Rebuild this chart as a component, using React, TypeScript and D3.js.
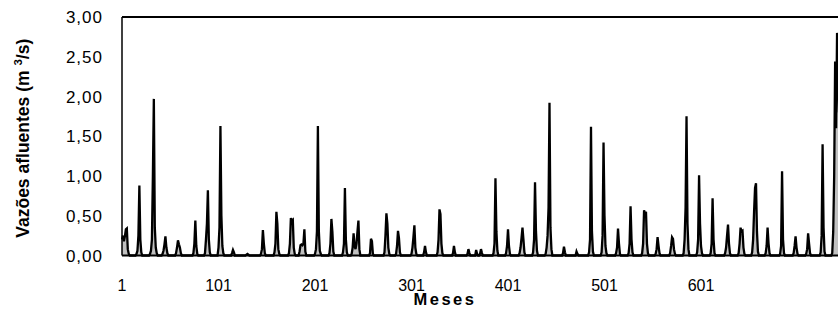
import * as d3 from 'd3';

// monthly inflows: [month, value]; months not listed are ~0
const picos: [number, number][] = [
    [1, 0.2], [2, 0.25], [3, 0.18], [4, 0.24], [5, 0.33], [6, 0.34], [7, 0.08], [8, 0.02],
    [16, 0.02], [17, 0.06], [18, 0.25], [19, 0.88], [20, 0.2], [21, 0.04],
    [30, 0.02], [31, 0.06], [32, 0.2], [33, 1.0], [34, 1.97], [35, 0.35], [36, 0.1], [37, 0.03],
    [43, 0.02], [44, 0.06], [45, 0.14], [46, 0.24], [47, 0.1], [48, 0.03],
    [57, 0.03], [58, 0.1], [59, 0.19], [60, 0.14], [61, 0.1], [62, 0.03],
    [75, 0.03], [76, 0.15], [77, 0.44], [78, 0.12], [79, 0.02],
    [87, 0.03], [88, 0.2], [89, 0.4], [90, 0.82], [91, 0.2], [92, 0.04],
    [101, 0.1], [102, 0.35], [103, 1.63], [104, 0.5], [105, 0.12], [106, 0.03],
    [115, 0.03], [116, 0.07], [117, 0.04],
    [130, 0.01], [131, 0.02], [132, 0.01],
    [145, 0.02], [146, 0.08], [147, 0.32], [148, 0.15], [149, 0.03],
    [159, 0.04], [160, 0.15], [161, 0.55], [162, 0.4], [163, 0.08], [164, 0.02],
    [174, 0.03], [175, 0.15], [176, 0.47], [177, 0.44], [178, 0.45], [179, 0.1], [180, 0.02],
    [185, 0.05], [186, 0.13], [187, 0.14], [188, 0.13], [189, 0.15], [190, 0.33], [191, 0.05],
    [201, 0.02], [202, 0.08], [203, 0.3], [204, 1.63], [205, 0.3], [206, 0.06], [207, 0.02],
    [216, 0.03], [217, 0.15], [218, 0.46], [219, 0.3], [220, 0.05],
    [230, 0.04], [231, 0.15], [232, 0.85], [233, 0.2], [234, 0.04],
    [239, 0.02], [240, 0.1], [241, 0.28], [242, 0.12], [243, 0.08], [244, 0.15], [245, 0.3], [246, 0.44], [247, 0.08],
    [258, 0.03], [259, 0.21], [260, 0.18], [261, 0.02],
    [273, 0.04], [274, 0.25], [275, 0.53], [276, 0.4], [277, 0.1], [278, 0.02],
    [285, 0.02], [286, 0.12], [287, 0.31], [288, 0.22], [289, 0.04],
    [301, 0.02], [302, 0.1], [303, 0.23], [304, 0.38], [305, 0.1], [306, 0.02],
    [314, 0.04], [315, 0.12], [316, 0.04],
    [328, 0.04], [329, 0.2], [330, 0.58], [331, 0.52], [332, 0.15], [333, 0.03],
    [344, 0.03], [345, 0.12], [346, 0.04],
    [359, 0.02], [360, 0.08], [361, 0.03],
    [368, 0.07], [369, 0.02],
    [372, 0.02], [373, 0.08], [374, 0.03],
    [386, 0.03], [387, 0.15], [388, 0.97], [389, 0.3], [390, 0.06],
    [399, 0.03], [400, 0.12], [401, 0.33], [402, 0.12], [403, 0.02],
    [413, 0.03], [414, 0.1], [415, 0.22], [416, 0.35], [417, 0.2], [418, 0.04],
    [427, 0.04], [428, 0.2], [429, 0.92], [430, 0.3], [431, 0.06],
    [440, 0.02], [441, 0.1], [442, 0.25], [443, 0.6], [444, 1.92], [445, 0.35], [446, 0.08],
    [458, 0.03], [459, 0.11], [460, 0.04],
    [472, 0.05], [473, 0.02],
    [485, 0.04], [486, 0.2], [487, 1.62], [488, 0.3], [489, 0.05],
    [498, 0.04], [499, 0.25], [500, 1.42], [501, 0.5], [502, 0.12], [503, 0.03],
    [513, 0.03], [514, 0.1], [515, 0.34], [516, 0.15], [517, 0.02],
    [526, 0.03], [527, 0.15], [528, 0.62], [529, 0.2], [530, 0.04],
    [540, 0.03], [541, 0.15], [542, 0.57], [543, 0.52], [544, 0.55], [545, 0.15], [546, 0.03],
    [554, 0.02], [555, 0.08], [556, 0.23], [557, 0.12], [558, 0.03],
    [569, 0.03], [570, 0.12], [571, 0.23], [572, 0.21], [573, 0.08], [574, 0.02],
    [583, 0.03], [584, 0.2], [585, 0.6], [586, 1.75], [587, 0.4], [588, 0.08],
    [597, 0.04], [598, 0.2], [599, 1.01], [600, 0.4], [601, 0.12], [602, 0.03],
    [611, 0.03], [612, 0.15], [613, 0.72], [614, 0.2], [615, 0.03],
    [626, 0.03], [627, 0.1], [628, 0.25], [629, 0.39], [630, 0.15], [631, 0.03],
    [640, 0.03], [641, 0.15], [642, 0.35], [643, 0.3], [644, 0.31], [645, 0.1], [646, 0.02],
    [654, 0.04], [655, 0.2], [656, 0.55], [657, 0.85], [658, 0.91], [659, 0.3], [660, 0.05],
    [668, 0.03], [669, 0.12], [670, 0.35], [671, 0.15], [672, 0.03],
    [683, 0.02], [684, 0.12], [685, 1.06], [686, 0.2], [687, 0.03],
    [697, 0.03], [698, 0.12], [699, 0.24], [700, 0.1], [701, 0.02],
    [710, 0.02], [711, 0.08], [712, 0.28], [713, 0.15], [714, 0.03],
    [725, 0.04], [726, 0.25], [727, 1.4], [728, 0.35], [729, 0.05],
    [737, 0.03], [738, 0.3], [739, 1.0], [740, 2.44], [741, 1.6], [742, 2.8], [743, 2.3], [744, 1.8],
];

const totalMeses = 744;
const mesLabels = ['1', '101', '201', '301', '401', '501', '601'];
const yTicks = [0, 0.5, 1, 1.5, 2, 2.5, 3];

const lookup = new Map(picos);
const serie = d3.range(1, totalMeses + 1).map(m => ({ mes: m, v: lookup.get(m) ?? 0 }));

const W = 838, H = 325;
const left = 122, top = 17, bottom = 255.5;
const x = d3.scaleLinear().domain([1, totalMeses]).range([left, left + (totalMeses - 1) * 0.965]);
const y = d3.scaleLinear().domain([0, 3]).range([bottom, top]);

const fmt = (v: number) => d3.format('.2f')(v).replace('.', ',');
const font = '"Liberation Sans", Arial, sans-serif';

export default function App() {
    const area = d3.area<{ mes: number; v: number }>()
        .x(d => x(d.mes))
        .y0(y(0))
        .y1(d => y(d.v));
    const line = d3.line<{ mes: number; v: number }>()
        .x(d => x(d.mes))
        .y(d => y(d.v));

    return (
        <svg width={W} height={H} style={{ position: 'absolute', left: 0, top: 0, background: '#fff' }}>
            <path d={area(serie) ?? ''} fill="#c0c0c0" stroke="none" />
            <path d={line(serie) ?? ''} fill="none" stroke="#000" strokeWidth={2.3} strokeLinejoin="miter" />

            {/* plot frame */}
            <line x1={left} x2={W + 5} y1={top} y2={top} stroke="#000" strokeWidth={2} />
            <line x1={left} x2={left} y1={top} y2={bottom} stroke="#000" strokeWidth={1.5} />
            <line x1={left} x2={W + 5} y1={bottom} y2={bottom} stroke="#000" strokeWidth={2} />

            {yTicks.map(t => (
                <text key={'y' + t} x={103} y={y(t)} dy="0.36em" textAnchor="end"
                    fontFamily={font} fontSize={17} letterSpacing={1} fill="#000">{fmt(t)}</text>
            ))}
            {mesLabels.map(m => (
                <text key={'x' + m} x={x(+m)} y={285} dy="0.36em" textAnchor="middle"
                    fontFamily={font} fontSize={16} fill="#000">{m}</text>
            ))}

            <text x={445} y={305} textAnchor="middle" fontFamily={font} fontSize={16.5}
                fontWeight="bold" letterSpacing={2.5} fill="#000">Meses</text>

            <text transform={`translate(29,${(top + bottom) / 2 + 2}) rotate(-90)`} textAnchor="middle"
                fontFamily={font} fontSize={17.5} fontWeight="bold" fill="#000">
                Vazões afluentes (m  <tspan fontSize={11.5} dy={-7}>3</tspan><tspan dy={7}>/s)</tspan>
            </text>
        </svg>
    );
}
